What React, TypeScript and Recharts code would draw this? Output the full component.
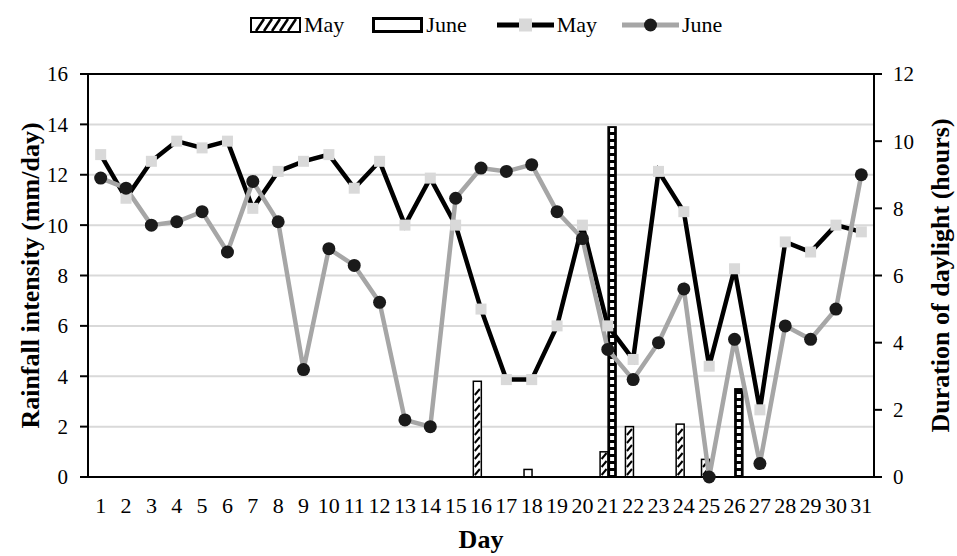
import React from 'react';
import { ComposedChart, Bar, Line, XAxis, YAxis, CartesianGrid, ReferenceLine } from 'recharts';

// Day of month (categories) and the tick edges between them
const days = [1, 2, 3, 4, 5, 6, 7, 8, 9, 10, 11, 12, 13, 14, 15, 16, 17, 18, 19, 20, 21, 22, 23, 24, 25, 26, 27, 28, 29, 30, 31];
const dayEdges = [0.5, 1.5, 2.5, 3.5, 4.5, 5.5, 6.5, 7.5, 8.5, 9.5, 10.5, 11.5, 12.5, 13.5, 14.5, 15.5, 16.5, 17.5, 18.5, 19.5, 20.5, 21.5, 22.5, 23.5, 24.5, 25.5, 26.5, 27.5, 28.5, 29.5, 30.5, 31.5];

// Rainfall intensity (mm/day), left axis
const mayRain = [0, 0, 0, 0, 0, 0, 0, 0, 0, 0, 0, 0, 0, 0, 0, 3.8, 0, 0.3, 0, 0, 1.0, 2.0, 0, 2.1, 0.7, 0, 0, 0, 0, 0, 0];
const juneRain = [0, 0, 0, 0, 0, 0, 0, 0, 0, 0, 0, 0, 0, 0, 0, 0, 0, 0, 0, 0, 13.9, 0, 0, 0, 0, 3.5, 0, 0, 0, 0, 0];

// Duration of daylight (hours), right axis
const mayHours = [9.6, 8.3, 9.4, 10.0, 9.8, 10.0, 8.0, 9.1, 9.4, 9.6, 8.6, 9.4, 7.5, 8.9, 7.5, 5.0, 2.9, 2.9, 4.5, 7.5, 4.5, 3.5, 9.1, 7.9, 3.3, 6.2, 2.0, 7.0, 6.7, 7.5, 7.3];
const juneHours = [8.9, 8.6, 7.5, 7.6, 7.9, 6.7, 8.8, 7.6, 3.2, 6.8, 6.3, 5.2, 1.7, 1.5, 8.3, 9.2, 9.1, 9.3, 7.9, 7.1, 3.8, 2.9, 4.0, 5.6, 0.0, 4.1, 0.4, 4.5, 4.1, 5.0, 9.0];

const rainTicks = [0, 2, 4, 6, 8, 10, 12, 14, 16];
const hourTicks = [0, 2, 4, 6, 8, 10, 12];

const data = days.map((day, i) => ({
  day,
  mayRain: mayRain[i],
  juneRain: juneRain[i],
  mayHours: mayHours[i],
  juneHours: juneHours[i],
}));

const FONT = "'Liberation Serif', 'Times New Roman', serif";
const tickStyle = { fontSize: 21, fill: '#000', fontFamily: FONT };
const dayTickStyle = { fontSize: 22, fill: '#000', fontFamily: FONT };
const titleStyle = { fontSize: 26, fontWeight: 'bold' as const, fill: '#000', fontFamily: FONT, textAnchor: 'middle' as const };

// hatched bar (May rainfall)
function HatchBar(props: any) {
  const { x, y, width, height } = props;
  if (!height || height <= 0) return null;
  const segs = [];
  for (let b = y + height - 2; b - 6 >= y + 1; b -= 8) {
    segs.push(<line key={b} x1={x + 1.5} y1={b} x2={x + width - 1.5} y2={b - 6} stroke="#000" strokeWidth={2} />);
  }
  return (
    <g>
      <rect x={x} y={y} width={width} height={height} fill="#fff" stroke="#000" strokeWidth={1.5} />
      {segs}
    </g>
  );
}

// checkered bar (June rainfall)
function CheckBar(props: any) {
  const { x, y, width, height } = props;
  if (!height || height <= 0) return null;
  const cells = [];
  for (let b = y + height - 2; b - 4 >= y + 1; b -= 7) {
    cells.push(<rect key={b} x={x + 2} y={b - 4} width={width - 4} height={4} fill="#fff" />);
  }
  return (
    <g>
      <rect x={x} y={y} width={width} height={height} fill="#000" stroke="#000" strokeWidth={1.5} />
      {cells}
    </g>
  );
}

const SquareDot = (props: any) => {
  const { cx, cy, index } = props;
  return <rect key={`sq-${index}`} x={cx - 5.5} y={cy - 5.5} width={11} height={11} fill="#d9d9d9" />;
};

const RoundDot = (props: any) => {
  const { cx, cy, index } = props;
  return <circle key={`ci-${index}`} cx={cx} cy={cy} r={6.5} fill="#1a1a1a" />;
};

function LegendRow() {
  const item = { display: 'flex', alignItems: 'center', height: 30 } as const;
  const label = { fontSize: 22, marginLeft: 3, lineHeight: '30px' } as const;
  return (
    <div style={{ position: 'absolute', left: 250, top: 10, display: 'flex', fontFamily: FONT, color: '#000' }}>
      <div style={{ ...item, marginRight: 28 }}>
        <svg width={51} height={16}>
          <rect x={1} y={1} width={49} height={14} fill="#fff" stroke="#000" strokeWidth={2} />
          {[4, 12, 20, 28, 36].map((p) => (
            <line key={p} x1={p + 2} y1={14} x2={p + 10} y2={2} stroke="#000" strokeWidth={2.5} />
          ))}
        </svg>
        <span style={label}>May</span>
      </div>
      <div style={{ ...item, marginRight: 30 }}>
        <svg width={51} height={16}>
          <rect x={1.5} y={1.5} width={48} height={13} fill="#fff" stroke="#000" strokeWidth={3} />
        </svg>
        <span style={label}>June</span>
      </div>
      <div style={{ ...item, marginRight: 25 }}>
        <svg width={57} height={16}>
          <line x1={0} y1={8} x2={57} y2={8} stroke="#000" strokeWidth={5} />
          <rect x={22} y={1.5} width={13} height={13} fill="#d9d9d9" />
        </svg>
        <span style={label}>May</span>
      </div>
      <div style={item}>
        <svg width={57} height={16}>
          <line x1={0} y1={8} x2={57} y2={8} stroke="#a6a6a6" strokeWidth={5} />
          <circle cx={28.5} cy={8} r={6.5} fill="#1a1a1a" />
        </svg>
        <span style={label}>June</span>
      </div>
    </div>
  );
}

export default function App() {
  return (
    <div style={{ position: 'absolute', left: 0, top: 0, width: 957, height: 556, background: '#fff', fontFamily: FONT }}>
      <ComposedChart width={957} height={556} data={data} margin={{ top: 74, right: 0, bottom: 0, left: 0 }} barGap={0}>
        <CartesianGrid xAxisId="day" yAxisId="rain" vertical={false} stroke="#d9d9d9" strokeWidth={2} />
        <XAxis
          xAxisId="edge"
          dataKey="day"
          type="number"
          domain={[0.5, 31.5]}
          allowDataOverflow
          ticks={dayEdges}
          interval={0}
          height={0}
          axisLine={false}
          tickSize={8}
          tickLine={{ stroke: '#000', strokeWidth: 2 }}
          tickFormatter={() => ''}
        />
        <XAxis
          xAxisId="day"
          dataKey="day"
          type="number"
          domain={[0.5, 31.5]}
          allowDataOverflow
          ticks={days}
          interval={0}
          height={79}
          tickLine={false}
          tickSize={8}
          tickMargin={12}
          axisLine={{ stroke: '#000', strokeWidth: 2 }}
          tick={dayTickStyle}
          label={{ value: 'Day', position: 'insideBottom', offset: 8, style: titleStyle }}
        />
        <YAxis
          yAxisId="rain"
          domain={[0, 16]}
          ticks={rainTicks}
          interval={0}
          width={88}
          tickSize={8}
          tickMargin={12}
          axisLine={{ stroke: '#000', strokeWidth: 2 }}
          tickLine={{ stroke: '#000', strokeWidth: 2 }}
          tick={tickStyle}
          label={{ value: 'Rainfall intensity (mm/day)', angle: -90, position: 'insideLeft', offset: 23, dx: 7, style: titleStyle }}
        />
        <YAxis
          yAxisId="hours"
          orientation="right"
          domain={[0, 12]}
          ticks={hourTicks}
          interval={0}
          width={83}
          tickSize={8}
          tickMargin={11}
          axisLine={{ stroke: '#000', strokeWidth: 2 }}
          tickLine={{ stroke: '#000', strokeWidth: 2 }}
          tick={tickStyle}
          label={{ value: 'Duration of daylight (hours)', angle: -90, position: 'insideRight', offset: 17, style: titleStyle }}
        />
        <ReferenceLine xAxisId="day" yAxisId="rain" y={16} stroke="#000" strokeWidth={2} />
        <Bar xAxisId="day" yAxisId="rain" dataKey="mayRain" name="May" barSize={8} shape={<HatchBar />} isAnimationActive={false} />
        <Bar xAxisId="day" yAxisId="rain" dataKey="juneRain" name="June" barSize={8} shape={<CheckBar />} isAnimationActive={false} />
        <Line
          xAxisId="day"
          yAxisId="hours"
          type="linear"
          dataKey="mayHours"
          name="May"
          stroke="#000"
          strokeWidth={4.5}
          dot={SquareDot}
          activeDot={false}
          isAnimationActive={false}
        />
        <Line
          xAxisId="day"
          yAxisId="hours"
          type="linear"
          dataKey="juneHours"
          name="June"
          stroke="#a6a6a6"
          strokeWidth={4.5}
          dot={RoundDot}
          activeDot={false}
          isAnimationActive={false}
        />
      </ComposedChart>
      <LegendRow />
    </div>
  );
}
